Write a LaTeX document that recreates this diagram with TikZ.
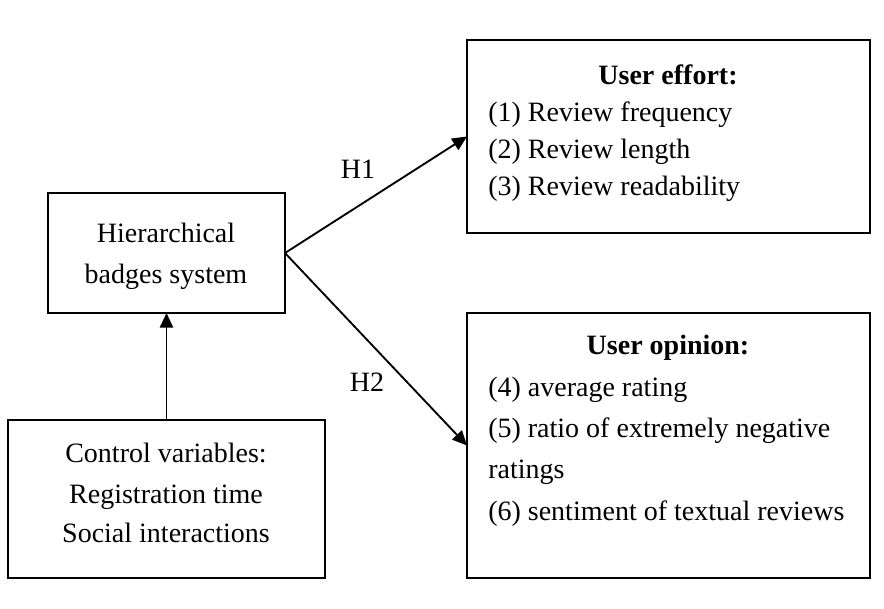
\documentclass[tikz,border=0pt]{standalone}
\usepackage{fontspec}
\setmainfont{Liberation Serif}
\usetikzlibrary{arrows.meta}
\begin{document}
\begin{tikzpicture}[x=0.75pt,y=-0.75pt,
  box/.style={draw=black, line width=1.5pt, inner sep=0pt, outer sep=0pt, anchor=north west},
  txt/.style={font=\fontsize{21}{25}\selectfont, inner sep=0pt, anchor=base},
  item/.style={txt, anchor=base west},
  conn/.style={line width=1.4pt, -{Triangle[length=11pt,width=10pt]}}
]
\useasboundingbox (0,0) rectangle (884,608);
\node[box, minimum width=177.75pt, minimum height=90pt] (hier) at (48,193) {};
\node[box, minimum width=237.75pt, minimum height=118.5pt] (ctrl) at (8,420) {};
\node[box, minimum width=302.25pt, minimum height=144.75pt] (effort) at (467,40) {};
\node[box, minimum width=302.25pt, minimum height=198.75pt] (opinion) at (467,313) {};

\node[txt] (h1t) at (166,242) {Hierarchical};
\node[txt] (h2t) at (166,283) {badges system};

\node[txt] (c1) at (166,462) {Control variables:};
\node[txt] (c2) at (166,503) {Registration time};
\node[txt] (c3) at (166,542) {Social interactions};

\node[txt] (e0) at (668,84) {\bfseries User effort:};
\node[item] (e1) at (488,121) {(1) Review frequency};
\node[item] (e2) at (488,158) {(2) Review length};
\node[item] (e3) at (488,195) {(3) Review readability};

\node[txt] (o0) at (668,354) {\bfseries User opinion:};
\node[item] (o1) at (488,396) {(4) average rating};
\node[item] (o2) at (488,437) {(5) ratio of extremely negative};
\node[item] (o3) at (488,478) {ratings};
\node[item] (o4) at (488,520) {(6) sentiment of textual reviews};

\node[txt] (lh1) at (358,178) {H1};
\node[txt] (lh2) at (367,391) {H2};

\draw[conn] (hier.east) -- (effort.west);
\draw[conn] (hier.east) -- (opinion.west);
\draw[conn] (ctrl.north) -- (hier.south);
\end{tikzpicture}
\end{document}
